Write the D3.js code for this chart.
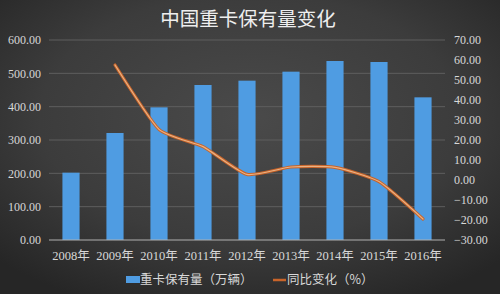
<!DOCTYPE html>
<html><head><meta charset="utf-8">
<script src="https://cdn.jsdelivr.net/npm/d3@7/dist/d3.min.js"></script>
<style>body{margin:0;background:#333}svg{display:block}</style>
</head><body>
<script>
const years = ["2008年","2009年","2010年","2011年","2012年","2013年","2014年","2015年","2016年"];
const stock = [202, 321, 398, 465, 478, 505, 537, 534, 428];
const growthYears = ["2009年","2010年","2011年","2012年","2013年","2014年","2015年","2016年"];
const growth = [57.5, 25.3, 16.7, 2.8, 6.5, 6.3, -0.8, -19.5];
const leftTicks = [0,100,200,300,400,500,600];
const rightTicks = [-30,-20,-10,0,10,20,30,40,50,60,70];
const titleText = "中国重卡保有量变化";
const legendBar = "重卡保有量（万辆）";
const legendLine = "同比变化（%）";

const W = 500, H = 294;
const svg = d3.select("body").append("svg").attr("width", W).attr("height", H);
const defs = svg.append("defs");
const rg = defs.append("radialGradient").attr("id","bg").attr("cx","50%").attr("cy","40%").attr("r","70%");
rg.append("stop").attr("offset","0%").attr("stop-color","#4a4a4a");
rg.append("stop").attr("offset","60%").attr("stop-color","#3c3c3c");
rg.append("stop").attr("offset","100%").attr("stop-color","#262626");
svg.append("rect").attr("width",W).attr("height",H).attr("fill","url(#bg)");

const serif = "'Liberation Serif', 'DejaVu Serif', serif";
const cjk = "'Noto Sans CJK SC', sans-serif";

const x = d3.scaleBand().domain(years).range([49, 445]).paddingInner(0.61).paddingOuter(0.305);
const yL = d3.scaleLinear().domain([0, 600]).range([240, 40]);
const yR = d3.scaleLinear().domain([-30, 70]).range([240, 40]);

// grid
svg.append("g").selectAll("line").data(leftTicks.filter(d=>d>0)).join("line")
  .attr("x1", 49).attr("x2", 445).attr("y1", d=>yL(d)).attr("y2", d=>yL(d))
  .attr("stroke","#5e5e5e").attr("stroke-width",1);

// bars
svg.append("g").selectAll("rect").data(stock).join("rect")
  .attr("x",(d,i)=>x(years[i])).attr("width",x.bandwidth())
  .attr("y",d=>yL(d)).attr("height",d=>yL(0)-yL(d))
  .attr("fill","#4f9ce2");

// baseline
svg.append("line").attr("x1",49).attr("x2",445).attr("y1",yL(0)).attr("y2",yL(0))
  .attr("stroke","#b0b0b0").attr("stroke-width",1);

const fmt = d3.format(".2f");
const axL = d3.axisLeft(yL).tickValues(leftTicks).tickFormat(fmt).tickSize(0).tickPadding(0);
const gL = svg.append("g").attr("transform","translate(41,0)").call(axL);
gL.select(".domain").remove();
gL.selectAll("text").attr("fill","#d8d8d8").style("font-family",serif).style("font-size","12px");

const axR = d3.axisRight(yR).tickValues(rightTicks).tickFormat(fmt).tickSize(0).tickPadding(0);
const gR = svg.append("g").attr("transform","translate(454,0)").call(axR);
gR.select(".domain").remove();
gR.selectAll("text").attr("fill","#d8d8d8").style("font-family",serif).style("font-size","12px");

const axB = d3.axisBottom(x).tickSize(0).tickPadding(0);
const gB = svg.append("g").attr("transform","translate(0,251)").call(axB);
gB.select(".domain").remove();
gB.selectAll("text").attr("fill","#d8d8d8").style("font-family","'Liberation Serif', 'Noto Sans CJK SC', serif").style("font-size","12.5px").attr("dy","0.71em");

// line
const line = d3.line().x((d,i)=>x(growthYears[i])+x.bandwidth()/2).y(d=>yR(d)).curve(d3.curveCardinal.tension(0.45));
svg.append("path").datum(growth).attr("d",line).attr("fill","none")
  .attr("stroke","#c8642a").attr("stroke-width",3.2).attr("stroke-linecap","round");
svg.append("path").datum(growth).attr("d",line).attr("fill","none")
  .attr("stroke","#eab283").attr("stroke-width",1.2).attr("stroke-linecap","round");

// title
svg.append("text").attr("x",248).attr("y",26).attr("text-anchor","middle")
  .attr("fill","#eeeeee").style("font-family",cjk).style("font-size","19.5px").text(titleText);

// legend
svg.append("rect").attr("x",126).attr("y",276).attr("width",14).attr("height",7).attr("fill","#4f9ce2");
svg.append("text").attr("x",140).attr("y",284).attr("fill","#d8d8d8").style("font-family",cjk).style("font-size","12.5px").text(legendBar);
svg.append("line").attr("x1",273).attr("x2",286).attr("y1",280).attr("y2",280).attr("stroke","#c8642a").attr("stroke-width",2.5);
svg.append("text").attr("x",287).attr("y",284).attr("fill","#d8d8d8").style("font-family",cjk).style("font-size","12.5px").text(legendLine);
</script>
</body></html>
